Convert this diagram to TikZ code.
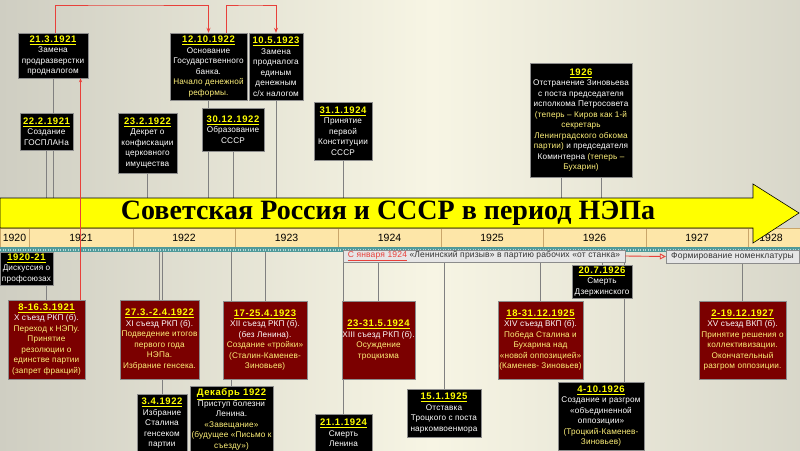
\documentclass[tikz,border=0pt]{standalone}
\usepackage{fontspec}
\setmainfont{Liberation Sans}
\newfontfamily\titlefont{Liberation Serif}
\newfontfamily\boxfont[LetterSpace=2]{Liberation Sans}
\newfontfamily\datefont[LetterSpace=6]{Liberation Sans}
\usetikzlibrary{calc,positioning,arrows.meta,backgrounds}
\pgfdeclarelayer{bg}
\pgfdeclarelayer{lines}
\pgfsetlayers{bg,lines,main}
\definecolor{bgl}{HTML}{8E8E85}
\definecolor{bgq}{HTML}{CFCEC2}
\definecolor{bgm}{HTML}{F7F5E4}
\definecolor{bgr}{HTML}{A3A398}
\definecolor{dateyel}{HTML}{FFFF00}
\definecolor{txtyel}{HTML}{FFF27A}
\definecolor{congred}{HTML}{7B0000}
\definecolor{boxgray}{HTML}{8C8C8C}
\definecolor{barfill}{HTML}{FFFF00}
\definecolor{yearfill}{HTML}{FDE6A8}
\definecolor{yearline}{HTML}{C9A66B}
\definecolor{bandteal}{HTML}{4F9A9A}
\definecolor{linkgray}{HTML}{808080}
\definecolor{linkred}{HTML}{E8403A}
\definecolor{pillfill}{HTML}{E6E6E6}
\pgfdeclarehorizontalshading{bgshade}{100bp}{color(0bp)=(bgl); color(25bp)=(bgq);
  color(52bp)=(bgm); color(82bp)=(bgq); color(100bp)=(bgr)}
\newcommand{\dt}[1]{{\datefont\bfseries\fontsize{9.5}{10.5}\selectfont\textcolor{dateyel}{\underline{#1}}}}
\newcommand{\yl}[1]{\textcolor{txtyel}{#1}}

\begin{document}
\begin{tikzpicture}[x=1pt,y=-1pt,
    evt/.style={draw=boxgray, fill=black, text=white, align=center, inner sep=0pt,
                font=\boxfont\fontsize{8.2}{10.5}\selectfont},
    cong/.style={evt, fill=congred},
    sz/.style 2 args={minimum width=#1, minimum height=#2},
    link/.style={draw=linkgray, line width=0.8pt},
    redlink/.style={draw=linkred, line width=0.9pt},
    pill/.style={draw=boxgray, fill=pillfill, inner sep=0pt, text=black!80,
                 font=\boxfont\fontsize{8.5}{9}\selectfont},
    yearcell/.style={fill=yearfill, draw=yearline, line width=0.6pt}]
  \useasboundingbox (0,0) rectangle (800,450);
  \begin{pgfonlayer}{bg}
    \shade[shading=bgshade] (0,0) rectangle (800,450);
  \end{pgfonlayer}
  % year strip
  \foreach \a/\b/\yr in {0/29/1920, 29/133/1921, 133/235/1922, 235/338/1923, 338/441/1924,
                         441/543/1925, 543/646/1926, 646/748/1927}{
    \draw[yearcell] (\a,228) rectangle (\b,247);
    \node[font=\fontsize{10.5}{12}\selectfont] (y\yr) at ({(\a+\b)/2},237.5) {\yr};
  }
  \draw[yearcell] (748,228) rectangle (800,247);
  \node[font=\fontsize{10.5}{12}\selectfont] (y1928) at (771,237.5) {1928};
  \node[fill=bandteal, minimum width=800pt, minimum height=5pt, inner sep=0pt,
        anchor=north west] (band) at (0,247) {};
  \draw[bandteal!40!white, dash pattern=on 1pt off 1.5pt, line width=2pt] (band.west) -- (band.east);
  % the arrow
  \coordinate (bartop) at (0,198);
  \filldraw[fill=barfill, draw=black, line width=0.6pt]
    (0,198) -- (753,198) -- (753,184) -- (799,213) -- (753,243) -- (753,228) -- (0,228) -- cycle;
  \node[font=\titlefont\bfseries\fontsize{28}{30}\selectfont] (title) at (388,213.5)
    {Советская Россия и СССР в период НЭПа};

  % above the arrow
  \node[evt, sz={70pt}{45pt}] (b1) at (53,55.5) {\dt{21.3.1921}\\Замена\\продразверстки\\продналогом};
  \node[evt, sz={53pt}{37pt}] (b2) at (46.5,131.5) {\dt{22.2.1921}\\Создание\\ГОСПЛАНа};
  \node[evt, sz={59pt}{60pt}] (b3) at (147.5,143) {\dt{23.2.1922}\\Декрет о\\конфискации\\церковного\\имущества};
  \node[evt, sz={77pt}{67pt}] (b4) at (208.5,66.5) {\dt{12.10.1922}\\Основание\\Государственного\\банка.\\\yl{Начало денежной}\\\yl{реформы.}};
  \node[evt, sz={54pt}{67pt}] (b5) at (276,66.5) {\dt{10.5.1923}\\Замена\\продналога\\единым\\денежным\\с/х налогом};
  \node[evt, sz={62pt}{43pt}] (b6) at (233,129.5) {\dt{30.12.1922}\\Образование\\СССР};
  \node[evt, sz={58pt}{58pt}] (b7) at (343,131) {\dt{31.1.1924}\\Принятие\\первой\\Конституции\\СССР};
  \node[evt, sz={102pt}{114pt}] (b8) at (581,120) {\dt{1926}\\Отстранение Зиновьева\\с поста председателя\\исполкома Петросовета\\\yl{(теперь – Киров как 1-й}\\\yl{секретарь}\\\yl{Ленинградского обкома}\\\yl{партии)} и председателя\\Коминтерна \yl{(теперь –}\\\yl{Бухарин)}};

  % below the arrow
  \node[evt, sz={53pt}{33pt}] (d0) at (26.5,268.5) {\dt{1920-21}\\Дискуссия о\\профсоюзах};
  \node[cong, sz={77pt}{79pt}] (c10) at (46.5,339.5) {\dt{8-16.3.1921}\\X съезд РКП (б).\\\yl{Переход к НЭПу.}\\\yl{Принятие}\\\yl{резолюции о}\\\yl{единстве партии}\\\yl{(запрет фракций)}};
  \node[cong, sz={79pt}{79pt}] (c11) at (159.5,339.5) {\dt{27.3.-2.4.1922}\\XI съезд РКП (б).\\\yl{Подведение итогов}\\\yl{первого года}\\\yl{НЭПа.}\\\yl{Избрание генсека.}};
  \node[evt, sz={50pt}{58pt}, anchor=north] (g1) at (162,394) {\dt{3.4.1922}\\Избрание\\Сталина\\генсеком\\партии};
  \node[cong, sz={84pt}{78pt}] (c12) at (265,340) {\dt{17-25.4.1923}\\XII съезд РКП (б).\\(без Ленина).\\\yl{Создание «тройки»}\\\yl{(Сталин-Каменев-}\\\yl{Зиновьев)}};
  \node[evt, sz={83pt}{66pt}, anchor=north] (dec) at (231.5,386) {\dt{Декабрь 1922}\\Приступ болезни\\Ленина.\\\yl{«Завещание»}\\\yl{(будущее «Письмо к}\\\yl{съезду»)}};
  \node[cong, sz={73pt}{78pt}] (c13) at (378.5,340) {\dt{23-31.5.1924}\\XIII съезд РКП (б).\\\yl{Осуждение}\\\yl{троцкизма}};
  \node[evt, sz={57pt}{38pt}, anchor=north] (lenin) at (343.5,414) {\dt{21.1.1924}\\Смерть\\Ленина};
  \node[evt, sz={74pt}{48pt}] (trot) at (444,413) {\dt{15.1.1925}\\Отставка\\Троцкого с поста\\наркомвоенмора};
  \node[cong, sz={85pt}{78pt}] (c14) at (540.5,340) {\dt{18-31.12.1925}\\XIV съезд ВКП (б).\\\yl{Победа Сталина и}\\\yl{Бухарина над}\\\yl{«новой оппозицией»}\\\yl{(Каменев- Зиновьев)}};
  \node[evt, sz={60pt}{33pt}] (dz) at (602,281.5) {\dt{20.7.1926}\\Смерть\\Дзержинского};
  \node[evt, sz={86pt}{68pt}, anchor=north] (opp) at (601,382) {\dt{4-10.1926}\\Создание и разгром\\«объединенной\\оппозиции»\\\yl{(Троцкий-Каменев-}\\\yl{Зиновьев)}};
  \node[cong, sz={87pt}{78pt}] (c15) at (742.5,340) {\dt{2-19.12.1927}\\XV съезд ВКП (б).\\\yl{Принятие решения о}\\\yl{коллективизации.}\\\yl{Окончательный}\\\yl{разгром оппозиции.}};

  % grey pills under the strip
  \node[pill, minimum width=282pt, minimum height=12pt] (jan) at (484,256)
    {\textcolor{linkred}{\underline{С января 1924}} «Ленинский призыв» в партию рабочих «от станка»};
  \node[pill, minimum width=133pt, minimum height=13pt] (nom) at (732.5,256.5) {Формирование номенклатуры};

  % lines...
  \begin{pgfonlayer}{lines}
    \foreach \n in {b1,b2,b3,b4,b5,b6,b7}
      \draw[link] (\n.south) -- (\n.south |- bartop);
    \draw[link] ([xshift=-20pt]b8.south) -- ([xshift=-20pt]b8.south |- bartop);
    \draw[link] ([xshift=20pt]b8.south) -- ([xshift=20pt]b8.south |- bartop);
    \foreach \n in {c11,g1,c12,dec,c13,lenin,trot,c14,dz}
      \draw[link] (\n.north) -- (\n.north |- band.south);
    \draw[link] ([xshift=23pt]opp.north) -- ([xshift=23pt]opp.north |- band.south);
    \draw[link] (c10.north) -- (c10.north |- d0.south);
    \draw[link] (c15.north) -- (c15.north |- nom.south);
  \end{pgfonlayer}

  % red links
  \coordinate (rA) at (120,5);
  \coordinate (rB) at (250,5);
  \draw[redlink, -{Stealth[length=5pt,width=4pt]}] ([xshift=2pt]b1.north) |- (rA) -| (b4.north);
  \draw[redlink, -{Stealth[length=5pt,width=4pt]}] ([xshift=18pt]b4.north) |- (rB) -| (b5.north);
  \draw[redlink, -{Stealth[length=4pt,width=3pt]}] ([xshift=34pt]c10.north) -- ([xshift=34pt]c10.north |- b1.south);
  \draw[redlink, -{Triangle[open, length=6pt, width=6pt]}] (jan.east) -- (nom.west);
\end{tikzpicture}
\end{document}
